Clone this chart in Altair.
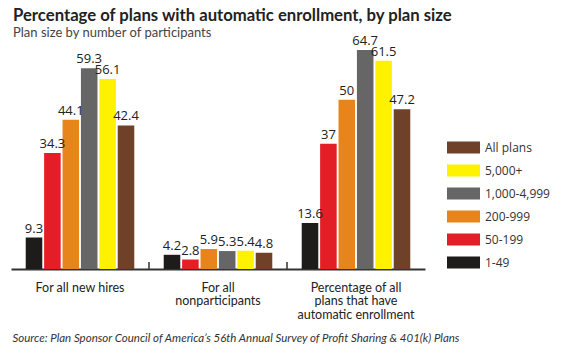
import altair as alt
import pandas as pd

groups = ["For all new hires", "For all|nonparticipants", "Percentage of all|plans that have|automatic enrollment"]
sizes = ["1-49", "50-199", "200-999", "1,000-4,999", "5,000+", "All plans"]
values_new_hires = [9.3, 34.3, 44.1, 59.3, 56.1, 42.4]
values_nonparticipants = [4.2, 2.8, 5.9, 5.3, 5.4, 4.8]
values_all_plans = [13.6, 37, 50, 64.7, 61.5, 47.2]
colors = ["#1e1b1b", "#e41e26", "#e8841c", "#666666", "#fff200", "#6f4129"]

TITLE = "Percentage of plans with automatic enrollment, by plan size"
SUBTITLE = "Plan size by number of participants"
SOURCE = "Source: Plan Sponsor Council of America\u2019s 56th Annual Survey of Profit Sharing & 401(k) Plans"

NARROW = "Lato, sans-serif"
REG = "Open Sans, sans-serif"

rows = []
for g, vals in zip(groups, [values_new_hires, values_nonparticipants, values_all_plans]):
    for s, v in zip(sizes, vals):
        rows.append({"group": g, "size": s, "value": v})
df = pd.DataFrame(rows)
sep = pd.DataFrame({"group": groups[1:]})

x = alt.X(
    "group:N",
    sort=groups,
    scale=alt.Scale(paddingInner=0, paddingOuter=0),
    axis=alt.Axis(
        labelExpr="split(datum.label, '|')",
        labelAngle=0,
        ticks=False,
        domainColor="#333333",
        domainWidth=2,
        labelFont=NARROW,
        labelFontSize=12.5,
        labelColor="#222222",
        labelPadding=12,
        labelLineHeight=13.5,
        labelBaseline="top",
        title=SOURCE,
        titleX=1,
        titleY=69,
        titleAlign="left",
        titleBaseline="middle",
        titleFont=NARROW,
        titleFontStyle="italic",
        titleFontWeight="normal",
        titleFontSize=11.5,
        titleColor="#333333",
    ),
)
y = alt.Y("value:Q", scale=alt.Scale(domain=[0, 65], nice=False), axis=None)
xoff = alt.XOffset("size:N", sort=sizes, scale=alt.Scale(paddingInner=0.1, paddingOuter=0.8))
color = alt.Color(
    "size:N",
    scale=alt.Scale(domain=sizes[::-1], range=colors[::-1]),
    legend=alt.Legend(
        title=None,
        orient="none",
        legendX=436,
        legendY=82,
        symbolType="M-1,-0.3636H1V0.3636H-1Z",
        symbolSize=1089,
        symbolStrokeWidth=0,
        symbolOpacity=1,
        labelFont=REG,
        labelFontSize=12,
        labelColor="#333333",
        labelOffset=5,
        rowPadding=-0.2,
    ),
)

bars = alt.Chart(df).mark_bar(opacity=1).encode(x=x, xOffset=xoff, y=y, color=color)
labels = alt.Chart(df).mark_text(baseline="bottom", dy=-2, font=REG, fontSize=13, color="#222222").encode(
    x=x, xOffset=xoff, y=y, text=alt.Text("value:Q")
)
seps = alt.Chart(sep).mark_rule(color="#333333", strokeWidth=1.5).encode(
    x=alt.X("group:N", sort=groups, bandPosition=0),
    y=alt.datum(0),
    y2=alt.datum(2.1),
)

chart = (
    alt.layer(bars, labels, seps)
    .properties(
        width=414,
        height=220,
        padding={"left": 3, "top": 0, "right": 0, "bottom": 0},
        title=alt.TitleParams(
            text=TITLE,
            subtitle=SUBTITLE,
            anchor="start",
            dx=2,
            font=NARROW,
            fontSize=16.7,
            fontWeight="bold",
            color="#222222",
            subtitleFont=NARROW,
            subtitleFontSize=13,
            subtitleColor="#444444",
            subtitlePadding=2,
            offset=-5,
        ),
    )
    .configure_view(stroke=None)
)

chart.save("out.html", embed_options={"renderer": "svg", "actions": False})
